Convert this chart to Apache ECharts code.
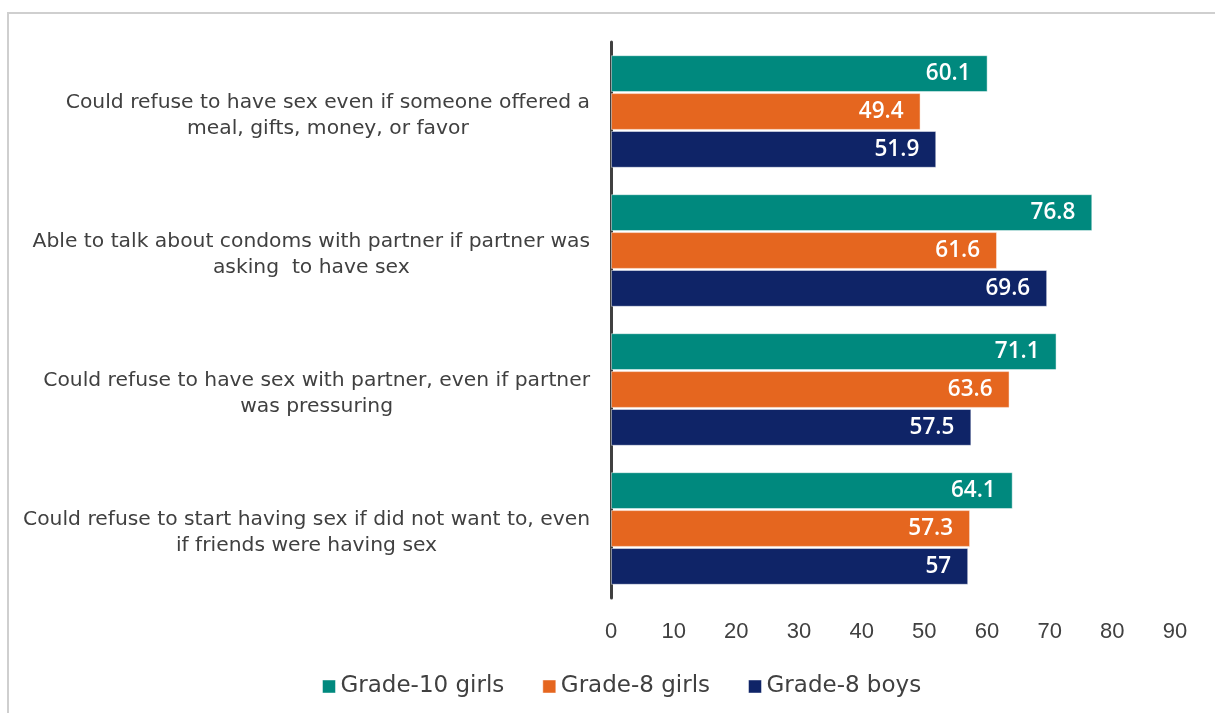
<!DOCTYPE html>
<html>
<head>
<meta charset="utf-8">
<script src="https://cdn.jsdelivr.net/npm/echarts@6/dist/echarts.min.js"></script>
<style>
  html, body { margin: 0; padding: 0; background: #ffffff; }
  #chart { width: 1215px; height: 713px; }
</style>
</head>
<body>
<div id="chart"></div>
<script>
// Survey items (each entry is one wrapped label, lines joined with \n)
const categories = [
  'Could refuse to have sex even if someone offered a\nmeal, gifts, money, or favor',
  'Able to talk about condoms with partner if partner was\nasking  to have sex',
  'Could refuse to have sex with partner, even if partner\nwas pressuring',
  'Could refuse to start having sex if did not want to, even\nif friends were having sex'
];
const seriesNames = ['Grade-10 girls', 'Grade-8 girls', 'Grade-8 boys'];
const grade10Girls = [60.1, 76.8, 71.1, 64.1];
const grade8Girls = [49.4, 61.6, 63.6, 57.3];
const grade8Boys = [51.9, 69.6, 57.5, 57];
const xTicks = [0, 10, 20, 30, 40, 50, 60, 70, 80, 90];

const colors = ['#00897e', '#e5661f', '#0f2467'];
const textColor = '#404040';

const chart = echarts.init(document.getElementById('chart'));

function makeSeries(name, data, color) {
  return {
    name: name,
    type: 'bar',
    data: data,
    barGap: '3%',
    barCategoryGap: '19%',
    itemStyle: { color: color, borderColor: 'rgba(255,255,255,0.45)', borderWidth: 1 },
    label: {
      show: true,
      position: 'insideRight',
      distance: 17,
      color: '#ffffff',
      fontFamily: 'Open Sans',
      fontWeight: 600,
      fontSize: 22.5
    }
  };
}

chart.setOption({
  animation: false,
  backgroundColor: '#ffffff',
  graphic: [{
    type: 'rect',
    shape: { x: 8, y: 13, width: 1400, height: 900 },
    style: { fill: 'none', stroke: '#cfcfcf', lineWidth: 2 },
    silent: true,
    z: -1
  }],
  legend: {
    data: seriesNames,
    left: 317,
    top: 670,
    itemWidth: 13,
    itemHeight: 13,
    itemGap: 38,
    icon: 'rect',
    itemStyle: { borderColor: 'rgba(255,255,255,0.45)', borderWidth: 1 },
    textStyle: { color: textColor, fontFamily: 'DejaVu Sans', fontSize: 23 }
  },
  grid: { left: 611, right: 40, top: 42, bottom: 115, containLabel: false },
  xAxis: {
    type: 'value',
    min: xTicks[0],
    max: xTicks[xTicks.length - 1],
    interval: xTicks[1] - xTicks[0],
    axisLine: { show: false },
    axisTick: { show: false },
    splitLine: { show: false },
    axisLabel: {
      color: textColor,
      fontFamily: 'Liberation Sans',
      fontSize: 22,
      margin: 23
    }
  },
  yAxis: {
    type: 'category',
    inverse: true,
    data: categories,
    axisLine: { show: true, lineStyle: { color: '#404040', width: 3 } },
    axisTick: { show: false },
    axisLabel: {
      margin: 21,
      align: 'right',
      lineHeight: 26,
      padding: [8, 0, 0, 0],
      formatter: function (v) {
        return v.split('\n').map(function (l) { return '{c|' + l + '}'; }).join('\n');
      },
      rich: {
        c: {
          align: 'center',
          color: textColor,
          fontFamily: 'DejaVu Sans',
          fontSize: 20.3,
          lineHeight: 26
        }
      }
    }
  },
  series: [
    makeSeries(seriesNames[0], grade10Girls, colors[0]),
    makeSeries(seriesNames[1], grade8Girls, colors[1]),
    makeSeries(seriesNames[2], grade8Boys, colors[2])
  ]
});
</script>
</body>
</html>
